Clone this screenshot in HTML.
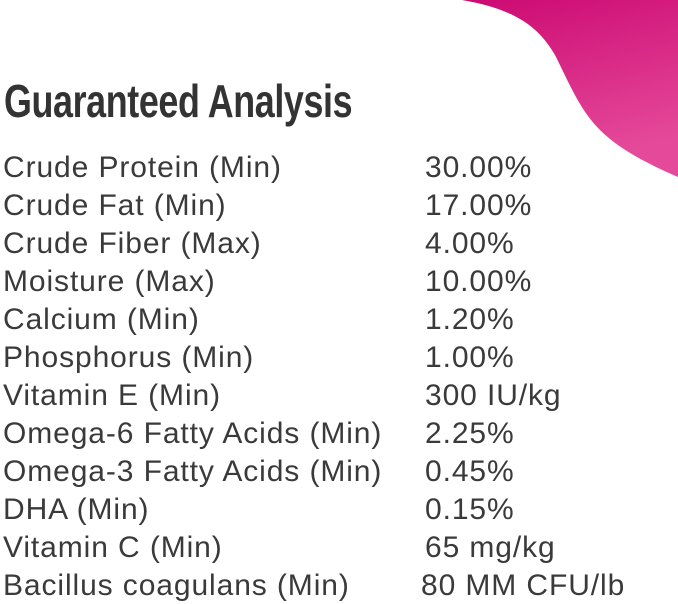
<!DOCTYPE html>
<html><head><style>
body{margin:0;width:678px;height:604px;background:#fff;overflow:hidden;position:relative;font-family:"Liberation Sans",sans-serif;color:#3a3a3a}
h1{position:absolute;left:4px;top:74px;margin:0;font-size:46px;font-weight:bold;color:#333;transform:scaleX(0.78);transform-origin:left;letter-spacing:-0.5px;font-family:"Liberation Sans Narrow","Liberation Sans",sans-serif}
.r{position:absolute;left:3px;font-size:30px;letter-spacing:0.9px;white-space:nowrap;line-height:1}
.v{position:absolute;left:425px;font-size:30px;letter-spacing:0.9px;white-space:nowrap;line-height:1}
</style></head><body>
<svg width="678" height="604" style="position:absolute;left:0;top:0">
<defs><linearGradient id="g" x1="0" y1="0" x2="0.3" y2="1"><stop offset="0" stop-color="#cc0a73"/><stop offset="1" stop-color="#e54a9a"/></linearGradient></defs>
<path d="M462 0 C520 10 540 30 555 55 C570 85 580 110 600 130 C620 150 650 165 678 177 L678 0 Z" fill="url(#g)"/>
</svg>
<h1>Guaranteed Analysis</h1>
<div class="r" style="top:153px">Crude Protein (Min)</div><div class="v" style="top:153px">30.00%</div>
<div class="r" style="top:191px">Crude Fat (Min)</div><div class="v" style="top:191px">17.00%</div>
<div class="r" style="top:229px">Crude Fiber (Max)</div><div class="v" style="top:229px">4.00%</div>
<div class="r" style="top:267px">Moisture (Max)</div><div class="v" style="top:267px">10.00%</div>
<div class="r" style="top:305px">Calcium (Min)</div><div class="v" style="top:305px">1.20%</div>
<div class="r" style="top:343px">Phosphorus (Min)</div><div class="v" style="top:343px">1.00%</div>
<div class="r" style="top:381px">Vitamin E (Min)</div><div class="v" style="top:381px">300 IU/kg</div>
<div class="r" style="top:419px">Omega-6 Fatty Acids (Min)</div><div class="v" style="top:419px">2.25%</div>
<div class="r" style="top:457px">Omega-3 Fatty Acids (Min)</div><div class="v" style="top:457px">0.45%</div>
<div class="r" style="top:495px">DHA (Min)</div><div class="v" style="top:495px">0.15%</div>
<div class="r" style="top:533px">Vitamin C (Min)</div><div class="v" style="top:533px">65 mg/kg</div>
<div class="r" style="top:571px">Bacillus coagulans (Min)</div><div class="v" style="top:571px;left:421px">80 MM CFU/lb</div>
</body></html>
